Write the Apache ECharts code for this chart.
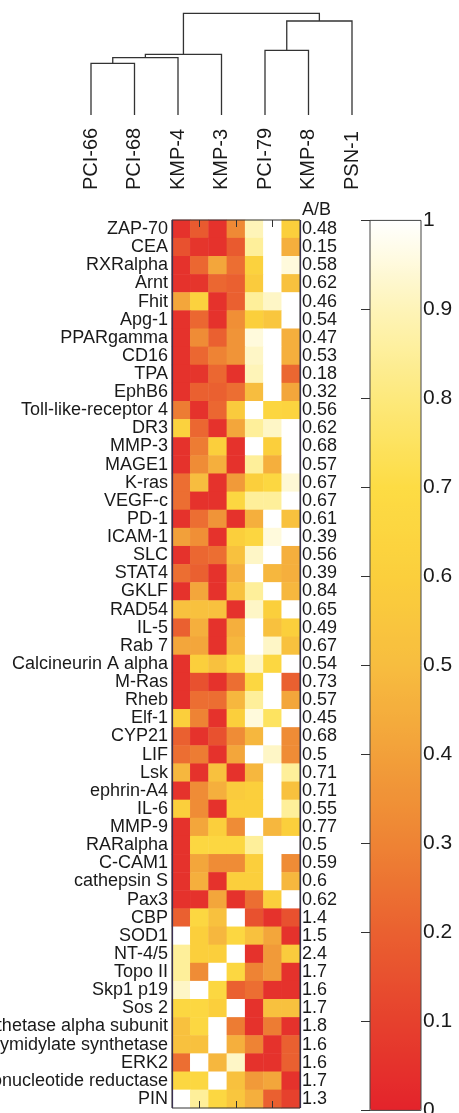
<!DOCTYPE html>
<html>
<head>
<meta charset="utf-8">
<script src="https://cdn.jsdelivr.net/npm/echarts@6/dist/echarts.min.js"></script>
<style>
html,body{margin:0;padding:0;background:#fff;}
#chart{width:459px;height:1113px;}
</style>
</head>
<body>
<div id="chart"></div>
<script>
// ---- data ----
var sampleNames = ['PCI-66','PCI-68','KMP-4','KMP-3','PCI-79','KMP-8','PSN-1'];
// dendrogram merges (scipy style: 0-6 leaves, 7+ previous merges), [a, b, height]
var dendroMerges = [[0,1,51.7],[7,2,57.3],[8,3,60.7],[4,5,64.7],[10,6,94],[9,11,101.7]];
var genes = ['ZAP-70','CEA','RXRalpha','Arnt','Fhit','Apg-1','PPARgamma','CD16','TPA','EphB6',
 'Toll-like-receptor 4','DR3','MMP-3','MAGE1','K-ras','VEGF-c','PD-1','ICAM-1','SLC','STAT4',
 'GKLF','RAD54','IL-5','Rab 7','Calcineurin A alpha','M-Ras','Rheb','Elf-1','CYP21','LIF',
 'Lsk','ephrin-A4','IL-6','MMP-9','RARalpha','C-CAM1','cathepsin S','Pax3','CBP','SOD1',
 'NT-4/5','Topo II','Skp1 p19','Sos 2','ATP synthetase alpha subunit','Thymidylate synthetase','ERK2','Ribonucleotide reductase','PIN'];
var ratios = ['0.48','0.15','0.58','0.62','0.46','0.54','0.47','0.53','0.18','0.32',
 '0.56','0.62','0.68','0.57','0.67','0.67','0.61','0.39','0.56','0.39',
 '0.84','0.65','0.49','0.67','0.54','0.73','0.57','0.45','0.68','0.5',
 '0.71','0.71','0.55','0.77','0.5','0.59','0.6','0.62','1.4','1.5',
 '2.4','1.7','1.6','1.7','1.8','1.6','1.6','1.7','1.3'];
var expr = [
 [0.05,0.18,0.05,0.32,0.90,1.00,0.60],
 [0.15,0.06,0.05,0.18,0.85,1.00,0.45],
 [0.05,0.22,0.42,0.24,0.62,1.00,0.95],
 [0.05,0.06,0.22,0.20,0.58,1.00,0.52],
 [0.42,0.62,0.05,0.20,0.85,0.92,1.00],
 [0.05,0.22,0.05,0.34,0.60,0.55,1.00],
 [0.05,0.33,0.20,0.36,0.95,1.00,0.45],
 [0.05,0.22,0.30,0.36,0.92,1.00,0.45],
 [0.05,0.06,0.22,0.05,0.90,1.00,0.22],
 [0.05,0.20,0.20,0.24,0.50,1.00,0.42],
 [0.28,0.05,0.22,0.58,1.00,0.65,0.64],
 [0.62,0.22,0.05,0.42,0.85,0.92,1.00],
 [0.05,0.28,0.60,0.05,1.00,0.60,1.00],
 [0.05,0.33,0.45,0.05,0.85,0.45,1.00],
 [0.24,0.50,0.05,0.38,0.60,0.66,0.94],
 [0.24,0.05,0.05,0.66,0.85,0.85,1.00],
 [0.05,0.24,0.36,0.05,0.45,1.00,0.52],
 [0.40,0.34,0.05,0.60,0.65,0.95,1.00],
 [0.05,0.22,0.24,0.52,0.92,1.00,0.45],
 [0.24,0.20,0.05,0.45,1.00,0.48,0.45],
 [0.05,0.42,0.05,0.52,0.85,1.00,0.48],
 [0.52,0.52,0.52,0.05,0.92,0.60,1.00],
 [0.20,0.45,0.05,0.45,1.00,0.52,0.60],
 [0.42,0.42,0.05,0.48,1.00,0.92,0.52],
 [0.05,0.60,0.52,0.66,0.92,0.66,1.00],
 [0.05,0.15,0.05,0.24,0.66,1.00,0.20],
 [0.05,0.24,0.24,0.48,0.85,1.00,0.42],
 [0.60,0.30,0.05,0.60,0.95,0.75,1.00],
 [0.20,0.05,0.15,0.33,0.48,1.00,0.33],
 [0.24,0.28,0.05,0.42,1.00,0.92,0.33],
 [0.48,0.05,0.52,0.05,0.48,1.00,0.85],
 [0.05,0.33,0.45,0.58,0.60,1.00,0.52],
 [0.60,0.33,0.05,0.60,0.60,1.00,0.85],
 [0.05,0.42,0.60,0.33,1.00,0.48,0.60],
 [0.05,0.66,0.66,0.66,0.85,1.00,1.00],
 [0.05,0.42,0.33,0.33,0.60,1.00,0.33],
 [0.05,0.45,0.05,0.60,0.60,1.00,0.48],
 [0.05,0.05,0.42,0.05,0.24,0.60,1.00],
 [0.20,0.66,0.52,1.00,0.15,0.05,0.15],
 [1.00,0.60,0.48,0.66,0.52,0.42,0.05],
 [0.85,0.60,0.60,1.00,0.05,0.38,0.58],
 [0.85,0.33,1.00,0.66,0.30,0.38,0.05],
 [0.92,1.00,0.66,0.20,0.24,0.05,0.05],
 [0.66,0.66,0.60,1.00,0.05,0.52,0.52],
 [0.52,0.66,1.00,0.28,0.05,0.28,0.05],
 [0.52,0.52,1.00,0.45,0.30,0.05,0.20],
 [0.24,1.00,0.48,0.92,0.05,0.05,0.20],
 [0.66,0.66,1.00,0.52,0.38,0.42,0.05],
 [1.00,0.85,0.66,0.55,0.45,0.20,0.10]
];
var colorbarTicks = ['0','0.1','0.2','0.3','0.4','0.5','0.6','0.7','0.8','0.9','1'];
var colorStops = ['#e4232b','#e6412d','#ea6030','#ee8334','#f2a03a','#f7bd3f','#fbcf3c','#fddc44','#fde97c','#fef4b8','#ffffff'];

// ---- build ----
var heatData = [];
for (var r = 0; r < expr.length; r++) {
  for (var c = 0; c < expr[r].length; c++) heatData.push([c, r, expr[r][c]]);
}
// dendrogram node positions
var nodeX = [], nodeH = [];
for (var i = 0; i < sampleNames.length; i++) { nodeX.push(i); nodeH.push(0); }
var dendroData = [];
dendroMerges.forEach(function (m) {
  var a = m[0], b = m[1], h = m[2];
  dendroData.push([nodeX[a], nodeH[a], nodeX[b], nodeH[b], h]);
  nodeX.push((nodeX[a] + nodeX[b]) / 2);
  nodeH.push(h);
});

var FONT = '"Liberation Sans", Arial, Helvetica, sans-serif';
var TXT = '#1a1a1a';
var chart = echarts.init(document.getElementById('chart'), null, {renderer: 'canvas'});

var hmLeft = 172, hmTop = 220, hmW = 128, hmH = 888;
var cbLeft = 370, cbTop = 220.4, cbW = 51, cbH = 890;
var dLeft = 69.25, dW = 304.5;

chart.setOption({
  backgroundColor: '#ffffff',
  animation: false,
  textStyle: {fontFamily: FONT},
  grid: [
    {left: hmLeft, top: hmTop, width: hmW, height: hmH, outerBoundsMode: 'none', containLabel: false, show: true, borderColor: '#333', borderWidth: 1, backgroundColor: 'transparent', z: 10},
    {left: dLeft, top: 13.3, width: dW, height: 101.7, outerBoundsMode: 'none', containLabel: false},
    {left: dLeft, top: 190, width: dW, height: 1, outerBoundsMode: 'none', containLabel: false},
    {left: cbLeft, top: cbTop, width: cbW, height: cbH, outerBoundsMode: 'none', containLabel: false, show: true, borderColor: '#444', borderWidth: 1, backgroundColor: 'transparent', z: 10}
  ],
  xAxis: [
    {gridIndex: 0, type: 'category', data: sampleNames, position: 'bottom', z: 11,
     axisLine: {show: false}, axisLabel: {show: false},
     axisTick: {show: true, inside: true, length: 7, alignWithLabel: true, interval: function (i) { return i % 2 === 1; }, lineStyle: {color: '#333'}},
     splitLine: {show: true, interval: function (i) { return i === 4; }, lineStyle: {color: '#3a3050', width: 1.2}}},
    {gridIndex: 0, type: 'category', data: sampleNames, position: 'top', z: 11,
     axisLine: {show: false}, axisLabel: {show: false},
     axisTick: {show: true, inside: true, length: 7, alignWithLabel: true, interval: function (i) { return i % 2 === 1; }, lineStyle: {color: '#333'}},
     splitLine: {show: false}},
    {gridIndex: 1, type: 'value', min: -0.5, max: 6.5, show: false},
    {gridIndex: 2, type: 'category', data: sampleNames, position: 'top',
     axisLine: {show: false}, axisTick: {show: false},
     axisLabel: {rotate: 90, margin: 0, interval: 0, fontSize: 20, color: TXT, fontFamily: FONT}},
    {gridIndex: 3, type: 'value', min: 0, max: 1, show: false}
  ],
  yAxis: [
    {gridIndex: 0, type: 'category', data: genes, inverse: true, position: 'left',
     axisLine: {show: false}, axisTick: {show: false}, splitLine: {show: false},
     axisLabel: {interval: 0, margin: 4, fontSize: 18, color: TXT, fontFamily: FONT}},
    {gridIndex: 0, type: 'category', data: genes, inverse: true, position: 'right',
     name: 'A/B', nameLocation: 'start', nameGap: 1,
     nameTextStyle: {fontSize: 18, color: TXT, align: 'left', verticalAlign: 'bottom', padding: [0, 0, 0, 2], fontFamily: FONT},
     axisLine: {show: false}, axisTick: {show: false}, splitLine: {show: false},
     axisLabel: {interval: 0, margin: 2, fontSize: 18, color: TXT, fontFamily: FONT,
       formatter: function (v, idx) { return ratios[idx]; }}},
    {gridIndex: 1, type: 'value', min: 0, max: 101.7, show: false},
    {gridIndex: 2, type: 'value', show: false},
    {gridIndex: 3, type: 'value', min: 0, max: 1, interval: 0.1, position: 'right', z: 11,
     axisLine: {show: false}, splitLine: {show: false},
     axisTick: {show: true, inside: true, length: 9, lineStyle: {color: '#333'}},
     axisLabel: {margin: 2, fontSize: 21, color: TXT, fontFamily: FONT,
       formatter: function (v) { return colorbarTicks[Math.round(v * 10)]; }}}
  ],
  visualMap: {
    type: 'continuous', min: 0, max: 1, seriesIndex: 0, orient: 'vertical',
    left: cbLeft, top: cbTop, itemWidth: cbW, itemHeight: cbH, padding: 0,
    calculable: false, hoverLink: false, showLabel: false, text: null,
    inRange: {color: colorStops}
  },
  series: [
    {type: 'heatmap', xAxisIndex: 0, yAxisIndex: 0, data: heatData, itemStyle: {borderWidth: 0}},
    {type: 'custom', xAxisIndex: 2, yAxisIndex: 2, data: dendroData,
     encode: {x: [0, 2], y: [1, 3, 4]},
     renderItem: function (params, api) {
       var p1 = api.coord([api.value(0), api.value(1)]);
       var p2 = api.coord([api.value(0), api.value(4)]);
       var p3 = api.coord([api.value(2), api.value(4)]);
       var p4 = api.coord([api.value(2), api.value(3)]);
       return {type: 'polyline', shape: {points: [p1, p2, p3, p4]},
         style: {stroke: '#333', lineWidth: 1.3, fill: null}};
     }}
  ]
});
</script>
</body>
</html>
